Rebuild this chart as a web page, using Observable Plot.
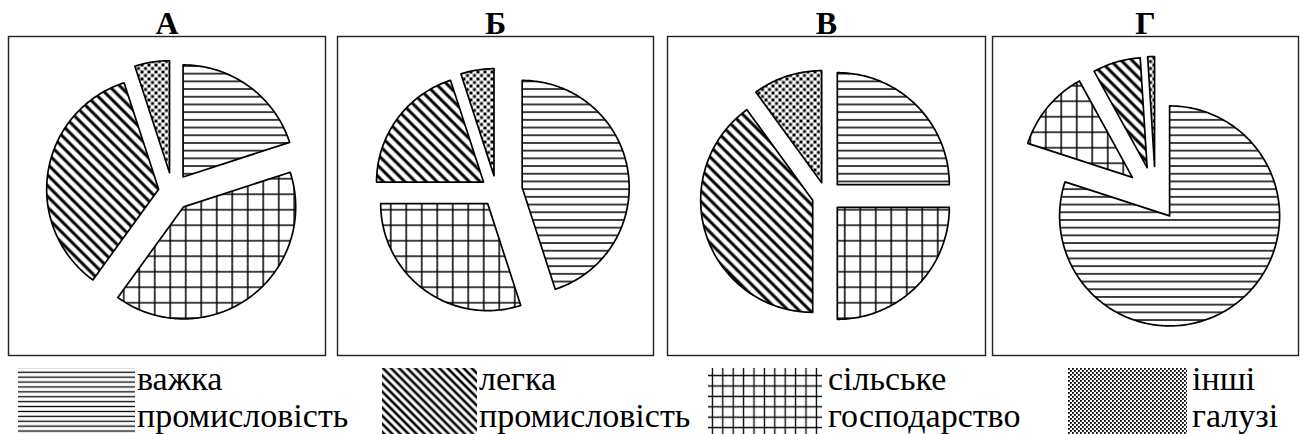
<!DOCTYPE html>
<html><head><meta charset="utf-8">
<script src="https://cdn.jsdelivr.net/npm/d3@7"></script>
<script src="https://cdn.jsdelivr.net/npm/@observablehq/plot@0.6"></script>
<style>
html,body{margin:0;padding:0;background:#fff;}
#root{position:relative;width:1300px;height:434px;overflow:hidden;background:#fff;}
.panel{position:absolute;top:0;}
#legend{position:absolute;left:0;top:360px;}
</style></head><body><div id="root"></div>
<script>
// ---- data ----
const panels = ["А", "Б", "В", "Г"];
const keys = ["heavy", "light", "agri", "other"];          // legend order
const labels = [["важка", "промисловість"], ["легка", "промисловість"], ["сільське", "господарство"], ["інші", "галузі"]];
const pieOrder = ["heavy", "agri", "light", "other"];     // clockwise from 12 o'clock
const heavy = [20, 45, 25, 80];
const light = [35, 20, 40, 7];
const agri  = [40, 30, 25, 12];
const other = [5, 5, 10, 1];
const valuesByKey = {heavy, light, agri, other};

// ---- layout (page pixels) ----
const layout = [
  {box: [8, 325, 36, 355],   c: [172, 191],   r: 112, ex: {heavy: 18, agri: 19, light: 14, other: 19}},
  {box: [337, 653, 36, 355], c: [496, 191],   r: 107, ex: {heavy: 26, agri: 15, light: 16, other: 16}},
  {box: [667, 985, 36, 355], c: [825.5, 195.5], r: 112, ex: {heavy: 16, agri: 16, light: 14, other: 14}},
  {box: [992, 1298, 36, 355], c: [1155, 196], r: 110, ex: {heavy: 24, agri: 30, light: 30, other: 30}}
];

function addPatterns(svgSel, pid, s) {
  const defs = svgSel.insert("defs", ":first-child");
  let p = defs.append("pattern").attr("id", `${pid}-heavy`).attr("patternUnits", "userSpaceOnUse")
    .attr("width", 10).attr("height", s.h);
  p.append("rect").attr("width", 10).attr("height", s.h).attr("fill", "#fff");
  p.append("path").attr("d", `M0,${s.h / 2}H10`).attr("stroke", "#000").attr("stroke-width", s.hw);
  p = defs.append("pattern").attr("id", `${pid}-light`).attr("patternUnits", "userSpaceOnUse")
    .attr("width", s.d).attr("height", s.d).attr("patternTransform", "rotate(-45)");
  p.append("rect").attr("width", s.d).attr("height", s.d).attr("fill", "#fff");
  p.append("path").attr("d", `M${s.d / 2},0V${s.d}`).attr("stroke", "#000").attr("stroke-width", s.dw);
  p = defs.append("pattern").attr("id", `${pid}-agri`).attr("patternUnits", "userSpaceOnUse")
    .attr("width", s.g).attr("height", s.g);
  p.append("rect").attr("width", s.g).attr("height", s.g).attr("fill", "#fff");
  p.append("path").attr("d", `M0,${s.g / 2}H${s.g}M${s.g / 2},0V${s.g}`).attr("stroke", "#000").attr("stroke-width", s.gw);
  p = defs.append("pattern").attr("id", `${pid}-other`).attr("patternUnits", "userSpaceOnUse")
    .attr("width", s.o).attr("height", s.o);
  p.append("rect").attr("width", s.o).attr("height", s.o).attr("fill", "#fff");
  p.append("rect").attr("x", 0).attr("y", 0).attr("width", s.os).attr("height", s.os).attr("fill", "#000");
  p.append("rect").attr("x", s.o / 2).attr("y", s.o / 2).attr("width", s.os).attr("height", s.os).attr("fill", "#000");
}

const root = document.getElementById("root");
const pieStyle = {h: 7.7, hw: 1.5, d: 7.6, dw: 3, g: 15.5, gw: 1.5, o: 7, os: 3};

panels.forEach((name, i) => {
  const L = layout[i];
  const [x0, x1, y0, y1] = L.box;
  const vals = pieOrder.map(k => valuesByKey[k][i]);
  const arcs = d3.pie().sort(null).value(d => d)(vals);
  const pts = [];
  arcs.forEach((a, j) => {
    const key = pieOrder[j];
    const mid = (a.startAngle + a.endAngle) / 2;
    const e = L.ex[key];
    const ax = L.c[0] + e * Math.sin(mid), ay = L.c[1] - e * Math.cos(mid);
    pts.push({key, x: ax, y: ay});
    const n = Math.max(2, Math.ceil((a.endAngle - a.startAngle) / (Math.PI / 180)));
    for (let t = 0; t <= n; t++) {
      const ang = a.startAngle + (a.endAngle - a.startAngle) * t / n;
      pts.push({key, x: ax + L.r * Math.sin(ang), y: ay - L.r * Math.cos(ang)});
    }
  });
  const pid = `p${i}`;
  const W = x1 - x0 + 2;
  const svg = Plot.plot({
    width: W, height: y1 + 2,
    marginLeft: 1, marginRight: 1, marginTop: y0, marginBottom: 2,
    style: {background: "transparent", overflow: "visible"},
    x: {domain: [x0, x1], axis: null},
    y: {domain: [y0, y1], reverse: true, axis: null},
    color: {domain: keys, range: keys.map(k => `url(#${pid}-${k})`)},
    marks: [
      Plot.frame({stroke: "#222", strokeWidth: 1.4}),
      Plot.line(pts, {x: "x", y: "y", z: "key", fill: "key", stroke: "#000", strokeWidth: 1.7,
        curve: "linear-closed", strokeLinejoin: "round"}),
      Plot.text([name], {text: d => d, frameAnchor: "top", lineAnchor: "bottom", dy: -3,
        fontFamily: "Liberation Serif", fontSize: 32, fontWeight: "bold", fill: "#000"})
    ]
  });
  addPatterns(d3.select(svg), pid, pieStyle);
  const div = document.createElement("div");
  div.className = "panel";
  div.style.left = (x0 - 1) + "px";
  div.appendChild(svg);
  root.appendChild(div);
});

// ---- legend ----
const legendItems = [
  {key: "heavy", sw: [18, 135],   tx: 137},
  {key: "light", sw: [382, 477],  tx: 479},
  {key: "agri",  sw: [708, 822],  tx: 828},
  {key: "other", sw: [1068, 1187], tx: 1192}
];
const lg = d3.create("svg").attr("id", "legend").attr("width", 1300).attr("height", 74);
addPatterns(lg, "lg", {h: 4.9, hw: 1.3, d: 5.7, dw: 2.6, g: 10.4, gw: 1.3, o: 4, os: 1.8});
legendItems.forEach((it) => {
  lg.append("rect").attr("x", it.sw[0]).attr("y", 8).attr("width", it.sw[1] - it.sw[0]).attr("height", 66)
    .attr("fill", `url(#lg-${it.key})`);
  const lab = labels[keys.indexOf(it.key)];
  [[30, lab[0]], [67, lab[1]]].forEach(([yy, t]) => {
    lg.append("text").attr("x", it.tx).attr("y", yy)
      .attr("font-family", "Liberation Serif").attr("font-size", 34).attr("fill", "#000")
      .style("font-family", "'Liberation Serif', 'Times New Roman', serif").style("font-size", "34px")
      .text(t);
  });
});
root.appendChild(lg.node());
</script></body></html>
